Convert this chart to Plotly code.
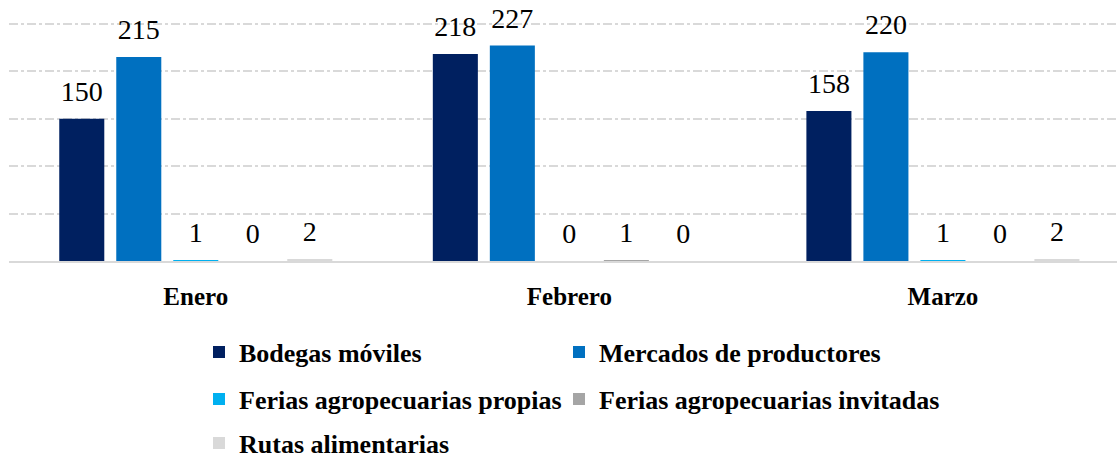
import plotly.graph_objects as go

categories = ["Enero", "Febrero", "Marzo"]
series_names = [
    "Bodegas móviles",
    "Mercados de productores",
    "Ferias agropecuarias propias",
    "Ferias agropecuarias invitadas",
    "Rutas alimentarias",
]
bodegas = [150, 218, 158]
mercados = [215, 227, 220]
ferias_propias = [1, 0, 1]
ferias_invitadas = [0, 1, 0]
rutas = [2, 0, 2]
values = [bodegas, mercados, ferias_propias, ferias_invitadas, rutas]
colors = ["#002060", "#0070C0", "#00B0F0", "#A5A5A5", "#D9D9D9"]

FONT = "Palatino Linotype, Book Antiqua, Liberation Serif, serif"
GAP = 0.237
W, H = 1117, 458

# legend slot for each series: (column x, row y) in container fractions
legend_ids = ["legend", "legend2", "legend3", "legend4", "legend5"]
col_x = [199 / W, 559 / W]
row_y = [1 - 352 / H, 1 - 399 / H, 1 - 443 / H]
legend_pos = [(col_x[0], row_y[0]), (col_x[1], row_y[0]),
              (col_x[0], row_y[1]), (col_x[1], row_y[1]),
              (col_x[0], row_y[2])]

fig = go.Figure()
for name, vals, col, lg in zip(series_names, values, colors, legend_ids):
    fig.add_trace(go.Bar(
        x=categories, y=vals, name=name, marker_color=col,
        marker_line_width=0, legend=lg,
    ))
# value labels, grouped like the bars
for name, vals in zip(series_names, values):
    fig.add_trace(go.Scatter(
        x=categories, y=vals, mode="markers+text",
        text=[str(v) for v in vals], textposition="top center",
        textfont=dict(family=FONT, size=28, color="#000000"),
        marker=dict(size=16, color="rgba(0,0,0,0)"),
        showlegend=False, hoverinfo="skip", cliponaxis=False,
    ))

leg_common = dict(orientation="h", xanchor="left", yanchor="middle",
                  font=dict(family=FONT, size=26, color="#000000", weight="bold"),
                  bgcolor="rgba(0,0,0,0)", itemclick=False,
                  xref="container", yref="container")
legends = {}
for lg, (lx, ly) in zip(legend_ids, legend_pos):
    legends[lg] = dict(x=lx, y=ly, **leg_common)

fig.update_layout(
    width=W, height=H,
    margin=dict(l=9, r=0, t=19, b=197, autoexpand=False),
    plot_bgcolor="#FFFFFF", paper_bgcolor="#FFFFFF",
    barmode="group", bargap=GAP, bargroupgap=0.21,
    scattermode="group", scattergap=GAP,
    font=dict(family=FONT, color="#000000"),
    showlegend=True,
    **legends,
)
fig.update_xaxes(
    range=[-0.5, 2.466], showgrid=False, showline=True,
    linecolor="#D9D9D9", linewidth=1.5, ticks="", ticklabelstandoff=12,
    tickfont=dict(family=FONT, size=25, color="#000000", weight="bold"),
)
fig.update_yaxes(
    range=[0, 255], dtick=50, showticklabels=False, showgrid=True,
    gridcolor="#D9D9D9", gridwidth=1.5, griddash="dashdot",
    zeroline=False, ticks="",
)

fig.write_html("out.html",
               config={"displayModeBar": False},
               post_script="document.body.style.margin='0';"
                           "document.body.style.padding='0';")
